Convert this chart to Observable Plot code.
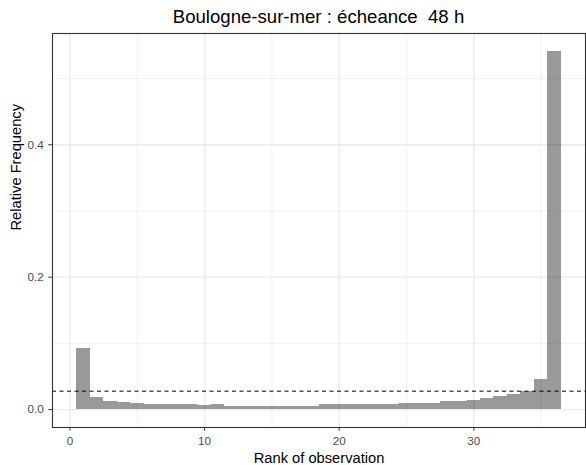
<!DOCTYPE html>
<html><head><meta charset="utf-8">
<script src="https://cdn.jsdelivr.net/npm/d3@7"></script>
<script src="https://cdn.jsdelivr.net/npm/@observablehq/plot@0.6"></script>
<style>
body{margin:0;background:#fff;font-family:"Liberation Sans",Arial,sans-serif;}
#title{box-sizing:border-box;width:586px;height:30px;padding:8px 1px 0 52px;text-align:center;font-size:18.6px;line-height:18.6px;color:#000;white-space:pre;overflow:visible;}
#chart svg{display:block;}
</style></head><body>
<div id="title"></div>
<div id="chart"></div>
<script>
const titleText = "Boulogne-sur-mer : écheance  48 h";
const xTitle = "Rank of observation";
const yTitle = "Relative Frequency";

const ranks = [1,2,3,4,5,6,7,8,9,10,11,12,13,14,15,16,17,18,19,20,21,22,23,24,25,26,27,28,29,30,31,32,33,34,35,36];
const freqs = [0.0922,0.0186,0.0126,0.0106,0.0091,0.0076,0.0076,0.0076,0.0076,0.0055,
               0.0080,0.0053,0.0053,0.0053,0.0053,0.0053,0.0053,0.0053,0.0080,0.0080,
               0.0080,0.0080,0.0080,0.0080,0.0097,0.0097,0.0097,0.0126,0.0126,0.0136,
               0.0160,0.0197,0.0227,0.0280,0.0454,0.5410];
const uniformLevel = [0.0278];

const xMajor = [0,10,20,30];
const xMinor = [5,15,25,35];
const yMajor = [0,0.2,0.4];
const yMinor = [0.1,0.3,0.5];

document.getElementById("title").textContent = titleText;

const rows = ranks.map((r,i)=>({rank:r, freq:freqs[i]}));
const xLo = d3.min(ranks)-0.5, xHi = d3.max(ranks)+0.5, xPad = 0.05*(xHi-xLo);
const yMax = d3.max(freqs), yPad = 0.05*yMax;
const font = '"Liberation Sans", Arial, sans-serif';

const plot = Plot.plot({
  width:586, height:435, marginTop:3, marginBottom:38, marginLeft:52, marginRight:1,
  style:{fontFamily:font, background:"#fff", color:"#4D4D4D"},
  x:{domain:[xLo-xPad, xHi+xPad]},
  y:{domain:[-yPad, yMax+yPad]},
  marks:[
    Plot.gridX(xMinor, {stroke:"#EBEBEB", strokeOpacity:1, strokeWidth:0.7}),
    Plot.gridY(yMinor, {stroke:"#EBEBEB", strokeOpacity:1, strokeWidth:0.7}),
    Plot.gridX(xMajor, {stroke:"#EBEBEB", strokeOpacity:1, strokeWidth:1.3}),
    Plot.gridY(yMajor, {stroke:"#EBEBEB", strokeOpacity:1, strokeWidth:1.3}),
    Plot.rectY(rows, {x1:d=>d.rank-0.5, x2:d=>d.rank+0.5, y1:0, y2:"freq", fill:"#000", fillOpacity:0.4, shapeRendering:"crispEdges"}),
    Plot.ruleY(uniformLevel, {stroke:"#000", strokeWidth:1, strokeDasharray:"4,3.5"}),
    Plot.frame({stroke:"#333", strokeWidth:1.1}),
    Plot.axisX(xMajor, {tickSize:3.7, tickPadding:5, stroke:"#333", fill:"#4D4D4D", fontSize:11.7, label:null}),
    Plot.axisY(yMajor, {tickSize:3.7, tickPadding:5, stroke:"#333", fill:"#4D4D4D", fontSize:11.7, tickFormat:d3.format(".1f"), label:null}),
    Plot.text([xTitle], {frameAnchor:"bottom", dy:35, fontSize:14.7, fill:"#000"}),
    Plot.text([yTitle], {frameAnchor:"left", rotate:-90, dx:-36.2, fontSize:14.7, fill:"#000"})
  ]
});
document.getElementById("chart").appendChild(plot);
</script>
</body></html>
